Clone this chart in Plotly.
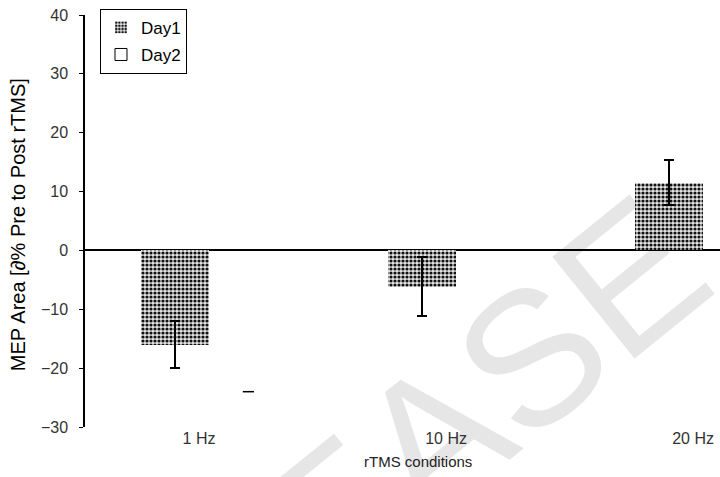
import plotly.graph_objects as go

# rTMS frequency conditions and MEP area change (% pre to post)
conditions = ["1 Hz", "10 Hz", "20 Hz"]
positions = [0, 1, 2]
day1_mean = [-16.0, -6.2, 11.5]
day1_err = [4.0, 5.0, 3.8]
day2_mean = [None, None, None]
day2_low_mark = [-24.0, None, None]

y_ticks = [-30, -20, -10, 0, 10, 20, 30, 40]

FONT = "Liberation Sans, Arial, sans-serif"

fig = go.Figure()

fig.add_trace(go.Bar(
    name="Day1",
    x=positions,
    y=day1_mean,
    offset=-0.236,
    width=0.275,
    marker=dict(
        color="#b4b4b4",
        line=dict(width=0),
        pattern=dict(shape=".", fgcolor="#111111", bgcolor="#e6e6e6",
                     size=4, solidity=0.5, fillmode="replace"),
    ),
    error_y=dict(type="data", array=day1_err, visible=True,
                 color="black", thickness=2, width=5),
    legendgroup="d1",
))

fig.add_trace(go.Bar(
    name="Day2",
    x=positions,
    y=day2_mean,
    offset=0.063,
    width=0.275,
    marker=dict(color="white", line=dict(color="black", width=1)),
    legendgroup="d2",
))

fig.add_trace(go.Scatter(
    x=[p + 0.2 for p in positions],
    y=day2_low_mark,
    mode="markers",
    marker=dict(symbol="line-ew", size=8, line=dict(color="black", width=1.5)),
    showlegend=False,
    hoverinfo="skip",
))

# faint diagonal watermark behind the plot
fig.add_shape(
    type="rect", xref="paper", yref="paper",
    x0=0.366, x1=0.566, y0=-0.12, y1=-0.02,
    line=dict(width=0), fillcolor="rgba(0,0,0,0)", layer="below",
    label=dict(text="PLEASE", textangle=-39, textposition="middle center",
               font=dict(family=FONT, size=190, color="#e6e6e6")),
)

fig.add_annotation(
    text="rTMS conditions", xref="paper", yref="paper",
    x=0.524, y=-0.058, xanchor="center", yanchor="top", showarrow=False,
    font=dict(family=FONT, size=15, color="#222"),
)

fig.add_annotation(
    text="MEP Area [∂% Pre to Post rTMS]", xref="paper", yref="paper",
    x=-0.1055, y=0.49, xanchor="center", yanchor="middle", textangle=-90,
    showarrow=False,
    font=dict(family=FONT, size=20, color="black"),
)

fig.update_layout(
    width=720, height=477,
    margin=dict(l=85, r=0, t=15, b=50),
    paper_bgcolor="white", plot_bgcolor="white",
    font=dict(family=FONT, color="#222"),
    showlegend=True,
    legend=dict(
        x=0.0236, y=1.015, xanchor="left", yanchor="top",
        bordercolor="black", borderwidth=1, bgcolor="white",
        font=dict(family=FONT, size=17, color="black"),
        tracegroupgap=2, itemwidth=30,
    ),
    bargap=0.0,
)

fig.update_xaxes(
    range=[-0.4615, 2.109],
    tickvals=positions, ticktext=conditions,
    showgrid=False, zeroline=False, showline=False, ticks="",
    tickfont=dict(family=FONT, size=16, color="#333"),
)

fig.update_yaxes(
    range=[-30, 40],
    tickvals=y_ticks,
    showgrid=False,
    zeroline=True, zerolinecolor="black", zerolinewidth=2,
    showline=True, linecolor="black", linewidth=1.5,
    ticks="outside", ticklen=4, tickcolor="black",
    ticklabelstandoff=8,
    tickfont=dict(family=FONT, size=16, color="#333"),
)

fig.write_html("out.html")
